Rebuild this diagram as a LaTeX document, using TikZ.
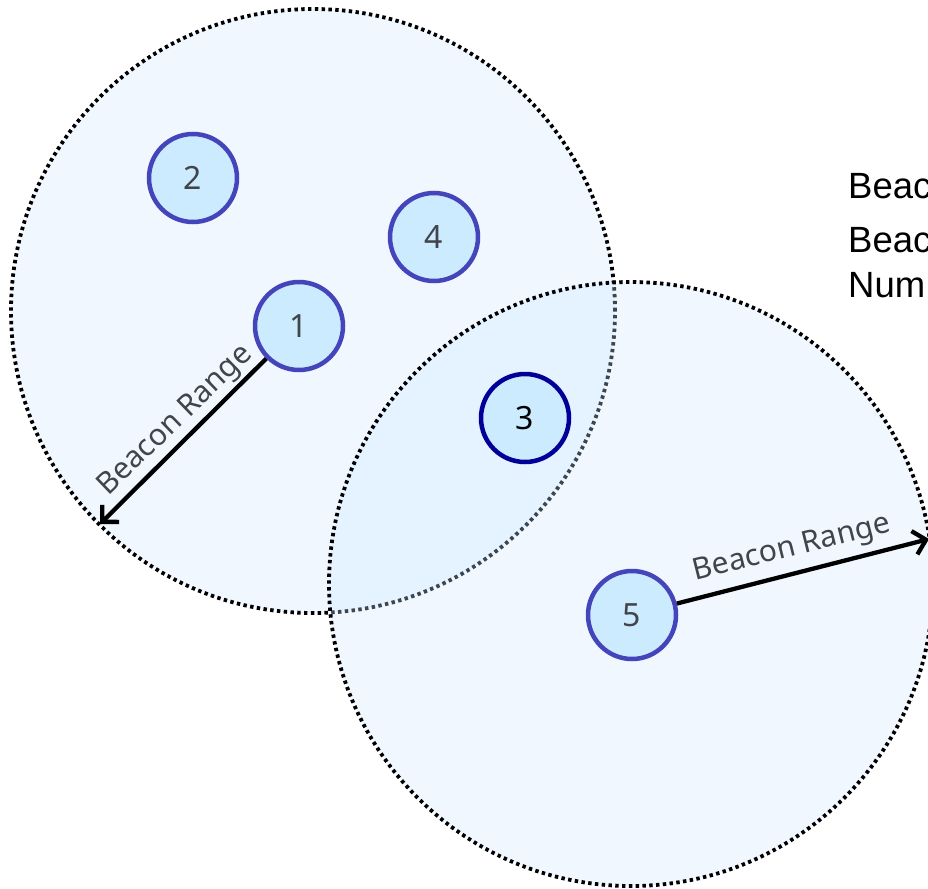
\documentclass[tikz,border=0pt]{standalone}
\usepackage{fontspec}
\setmainfont{Liberation Sans}
\newfontfamily\beaconfont{Noto Sans}
\usetikzlibrary{arrows.meta}

\definecolor{zonefill}{HTML}{CCE5FF}
\definecolor{beaconfill}{HTML}{CCEBFF}
\definecolor{beaconedge}{HTML}{4444BB}
\definecolor{activeedge}{HTML}{000099}
\definecolor{labelgray}{HTML}{41454B}

\tikzset{
  zone/.style={fill=zonefill, fill opacity=0.3, draw=black,
    line width=3.8pt, dash pattern=on 3.4pt off 3.4pt},
  beacon/.style={circle, draw=beaconedge, fill=beaconfill, line width=4.5pt,
    minimum size=88pt, inner sep=0pt, text=labelgray,
    font=\beaconfont\fontsize{32}{36}\selectfont},
  activebeacon/.style={beacon, draw=activeedge, text=black},
  rangearrow/.style={draw=black, line width=4.3pt,
    -{Straight Barb[length=12pt,width=24pt,line width=4.3pt]}},
  rangelabel/.style={text=labelgray, inner sep=0pt,
    font=\beaconfont\fontsize{30}{34}\selectfont},
  sidetext/.style={anchor=base west, inner sep=0pt,
    font=\fontsize{36.5}{45}\selectfont}
}

\begin{document}
\begin{tikzpicture}[x=1pt, y=-1pt]
  \useasboundingbox (0,0) rectangle (928,888);

  % coverage zones of beacons 1 and 5
  \coordinate (zoneA) at (313,311);
  \coordinate (zoneB) at (631,584);
  \path[zone] (zoneA) circle[radius=302pt];
  \path[zone] (zoneB) circle[radius=302pt];

  % beacons
  \node[beacon] (b2) at (193,178) {2};
  \node[beacon] (b4) at (434,237) {4};
  \node[beacon] (b1) at (299,326) {1};
  \node[activebeacon] (b3) at (525,418) {3};
  \node[beacon] (b5) at (632,615) {5};

  % range arrows to the zone borders
  \coordinate (edgeA) at (100,524);
  \coordinate (edgeB) at (929,539);
  \draw[rangearrow] (b1) -- (edgeA);
  \draw[rangearrow] (b5) -- (edgeB);
  \node[rangelabel, rotate=44] (rangeA) at (176,421) {Beacon Range};
  \node[rangelabel, rotate=14] (rangeB) at (792,549) {Beacon Range};

  % side text
  \node[sidetext] (side1) at (848,198) {Beac};
  \node[sidetext] (side2) at (848,252) {Beac};
  \node[sidetext] (side3) at (848,297) {Num};
\end{tikzpicture}
\end{document}
